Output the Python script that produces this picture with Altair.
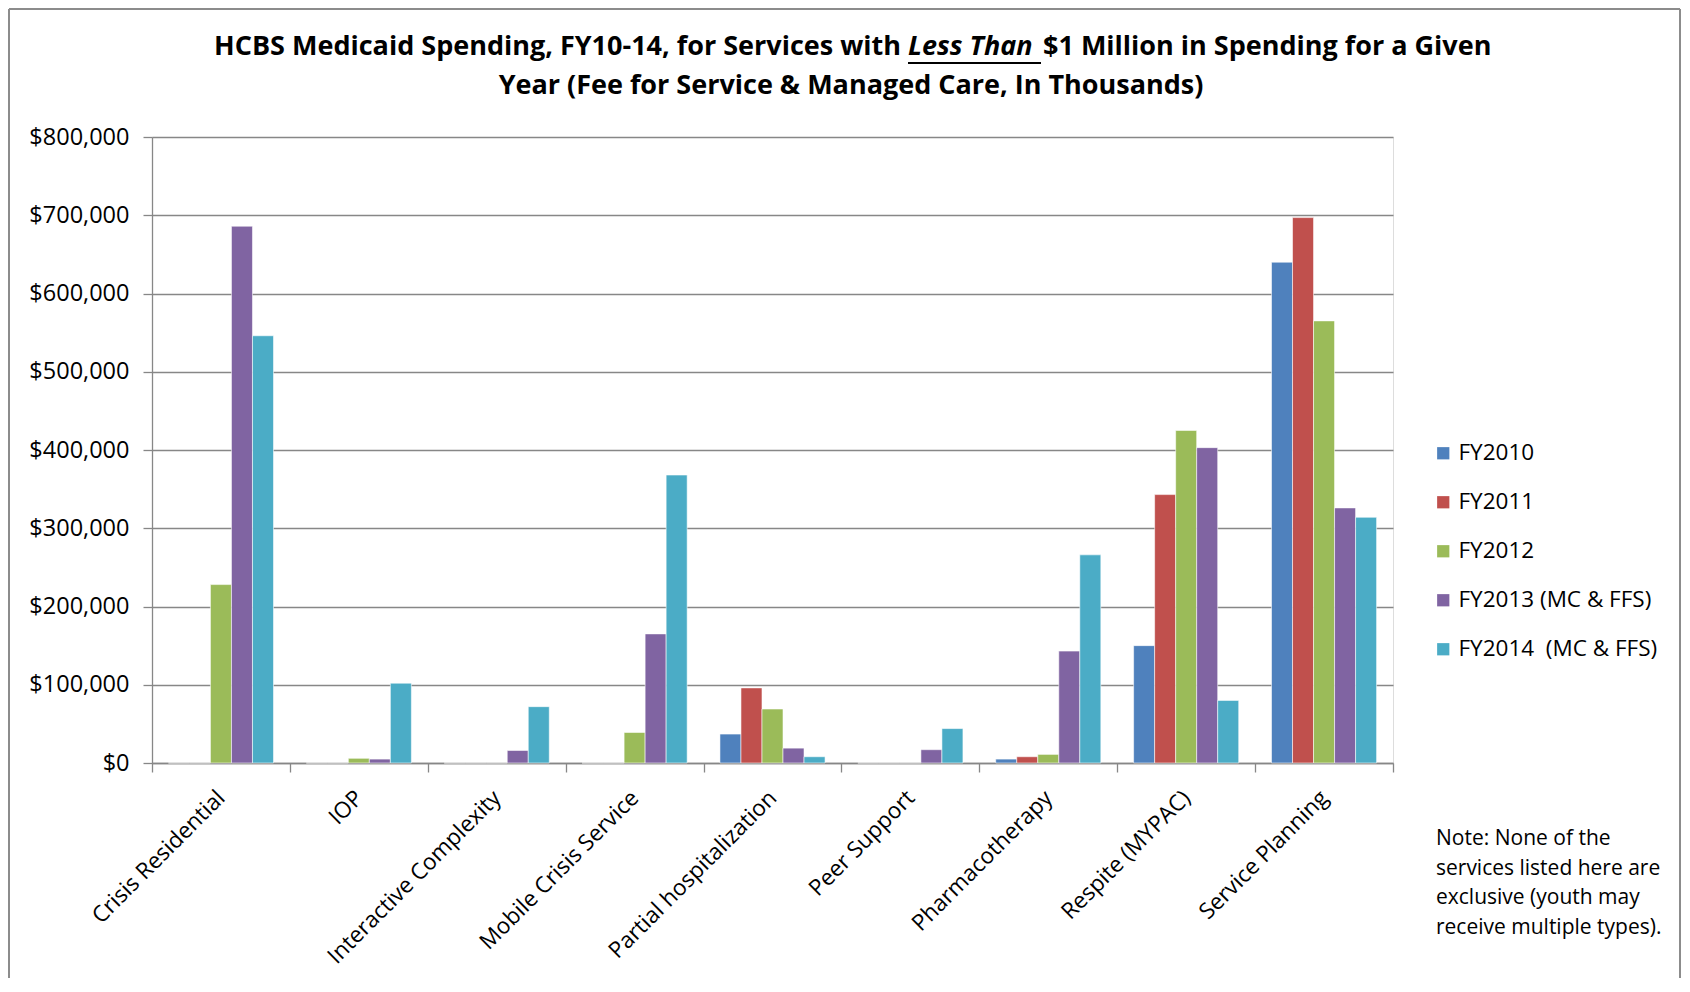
import altair as alt
import pandas as pd

categories = ["Crisis Residential", "IOP", "Interactive Complexity", "Mobile Crisis Service",
              "Partial hospitalization", "Peer Support", "Pharmacotherapy", "Respite (MYPAC)",
              "Service Planning"]
series = ["FY2010", "FY2011", "FY2012", "FY2013 (MC & FFS)", "FY2014\u00a0 (MC & FFS)"]
fy2010 = [0, 0, 0, 0, 37000, 0, 5000, 150000, 640000]
fy2011 = [0, 0, 0, 0, 96000, 0, 8000, 343000, 697000]
fy2012 = [228000, 6000, 0, 39000, 69000, 0, 11000, 425000, 565000]
fy2013 = [686000, 5000, 16000, 165000, 19000, 17000, 143000, 403000, 326000]
fy2014 = [546000, 102000, 72000, 368000, 8000, 44000, 266000, 80000, 314000]
colors = ["#4F81BD", "#C0504D", "#9BBB59", "#8064A2", "#4BACC6"]
y_ticks = [0, 100000, 200000, 300000, 400000, 500000, 600000, 700000, 800000]
title_a = "HCBS Medicaid Spending, FY10-14, for Services with"
title_b = "Less Than"
title_c = "$1 Million in Spending for a Given"
title_line2 = "Year (Fee for Service & Managed Care, In Thousands)"
note_lines = ["Note: None of the", "services listed here are", "exclusive (youth may",
              "receive multiple types)."]

rows = []
for s, vals in zip(series, [fy2010, fy2011, fy2012, fy2013, fy2014]):
    for c, v in zip(categories, vals):
        rows.append({"Service": c, "Year": s, "Spending": v})
df = pd.DataFrame(rows)

W, H = 1241, 626
FONT = "Open Sans"
TS = 27

bars = alt.Chart(df).mark_bar(stroke="white", strokeWidth=0.8, strokeOpacity=0.7).encode(
    x=alt.X("Service:N", sort=categories,
            scale=alt.Scale(paddingInner=0, paddingOuter=0),
            axis=alt.Axis(title=None, tickBand="extent", tickSize=9, tickColor="#878787",
                          domainColor="#878787", domainWidth=1.3, tickWidth=1.3,
                          labelAngle=315, labelAlign="right", labelBaseline="middle",
                          labelFont=FONT, labelFontSize=22.5, labelColor="black",
                          labelPadding=22, labelLimit=400, grid=False)),
    xOffset=alt.XOffset("Year:N", sort=series,
                        scale=alt.Scale(paddingInner=0, paddingOuter=0.78)),
    y=alt.Y("Spending:Q", scale=alt.Scale(domain=[0, 800000], nice=False),
            axis=alt.Axis(title=None, values=y_ticks, format="$,.0f", grid=True,
                          gridColor="#878787", gridWidth=1.3, domainColor="#878787",
                          domainWidth=1.3, tickColor="#878787", tickWidth=1.3, tickSize=9,
                          labelPadding=14, labelFont=FONT, labelFontSize=23.5,
                          labelColor="black")),
    color=alt.Color("Year:N", sort=series,
                    scale=alt.Scale(domain=series, range=colors),
                    legend=alt.Legend(title=None, orient="none", legendX=1280, legendY=305,
                                      symbolType="square", symbolSize=150,
                                      symbolStrokeWidth=0, labelFont=FONT,
                                      labelFontSize=22.5, labelColor="black",
                                      rowPadding=26, labelOffset=4, labelLimit=400)),
)

one = pd.DataFrame({"k": [0]})

t_a = alt.Chart(pd.DataFrame({"t": [title_a]})).mark_text(
    font=FONT, fontSize=TS, fontWeight="bold", align="right", baseline="middle",
    color="black").encode(text="t:N", x=alt.value(749), y=alt.value(-90))
t_b = alt.Chart(pd.DataFrame({"t": [title_b]})).mark_text(
    font=FONT, fontSize=TS, fontWeight="bold", fontStyle="italic", align="left",
    baseline="middle", color="black").encode(text="t:N", x=alt.value(756), y=alt.value(-90))
t_c = alt.Chart(pd.DataFrame({"t": [title_c]})).mark_text(
    font=FONT, fontSize=TS, fontWeight="bold", align="left", baseline="middle",
    color="black").encode(text="t:N", x=alt.value(891), y=alt.value(-90))
underline = alt.Chart(one).mark_rule(color="black", strokeWidth=2).encode(
    x=alt.value(756), x2=alt.value(889), y=alt.value(-74))
t_2 = alt.Chart(pd.DataFrame({"t": [title_line2]})).mark_text(
    font=FONT, fontSize=TS, fontWeight="bold", align="center", baseline="middle",
    color="black").encode(text="t:N", x=alt.value(699), y=alt.value(-51))

note = alt.Chart(pd.DataFrame({"t": ["\n".join(note_lines)]})).mark_text(
    font=FONT, fontSize=21, align="left", baseline="top", lineBreak="\n",
    lineHeight=29.5, color="black").encode(text="t:N", x=alt.value(1284), y=alt.value(691))

border_left = alt.Chart(one).mark_rule(color="#8c8c8c", strokeWidth=2).encode(
    x=alt.value(-143), y=alt.value(-128), y2=alt.value(H + 215))
border_top = alt.Chart(one).mark_rule(color="#8c8c8c", strokeWidth=2).encode(
    x=alt.value(-143), x2=alt.value(1528), y=alt.value(-128))
border_right = alt.Chart(one).mark_rule(color="#8c8c8c", strokeWidth=2).encode(
    x=alt.value(1528), y=alt.value(-128), y2=alt.value(H + 215))

chart = alt.layer(bars, t_a, t_b, t_c, underline, t_2, note,
                  border_left, border_top, border_right).properties(
    width=W, height=H,
    autosize=alt.AutoSizeParams(type="none"),
    padding={"left": 144, "top": 129, "right": 289, "bottom": 215},
).configure_view(stroke=None).configure(background="white")

chart.save("out.html", embed_options={"renderer": "svg", "actions": False})
